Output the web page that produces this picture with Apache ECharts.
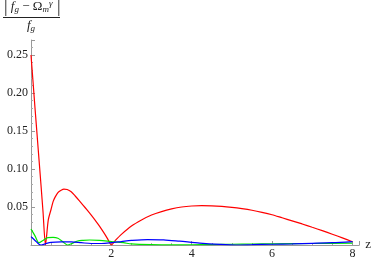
<!DOCTYPE html>
<html>
<head>
<meta charset="utf-8">
<script src="https://cdn.jsdelivr.net/npm/echarts@6/dist/echarts.min.js"></script>
<style>html,body{margin:0;padding:0;background:#fff}#c{width:374px;height:260px}</style>
</head>
<body>
<div id="c"></div>
<script>
// z values and |f_g - Omega_m^gamma| / f_g for three models
var redZ = [0,0.05,0.1,0.15,0.2,0.25,0.3,0.36,0.43,0.5,0.55,0.6,0.67,0.75,0.82,0.9,1.0,1.1,1.2,1.3,1.4,1.5,1.6,1.7,1.8,1.9,2.0,2.1,2.25,2.5,2.75,3.0,3.25,3.5,3.75,4.0,4.25,4.5,4.75,5.0,5.25,5.5,5.75,6.0,6.25,6.5,6.75,7.0,7.25,7.5,7.75,8.0];
var redV = [0.250,0.215,0.180,0.146,0.112,0.078,0.043,0.0,0.033,0.047,0.057,0.063,0.069,0.072,0.0735,0.073,0.070,0.0645,0.0585,0.0522,0.0458,0.0392,0.0323,0.0252,0.0172,0.0088,0.0,0.006,0.014,0.025,0.033,0.0395,0.044,0.0475,0.050,0.0513,0.0518,0.0516,0.0508,0.0495,0.0478,0.0457,0.0430,0.0398,0.0358,0.0318,0.0277,0.0233,0.0189,0.0142,0.0094,0.0043];

var greenZ = [0,0.1,0.2,0.3,0.42,0.55,0.67,0.8,0.91,1.0,1.16,1.3,1.46,1.7,2.0,2.3,2.5,3.0,3.5,4.0,4.5,5.0,5.5,6.0,7.0,8.0];
var greenV = [0.021,0.012,0.003,0.006,0.0096,0.010,0.0088,0.004,0.0,0.0015,0.0053,0.0062,0.0066,0.006,0.0045,0.003,0.0015,0.0005,0.0002,0.0003,0.0006,0.001,0.0013,0.0015,0.002,0.0025];

var blueZ = [0,0.1,0.2,0.25,0.35,0.5,0.75,1.0,1.25,1.5,1.75,2.0,2.25,2.5,2.9,3.3,3.7,4.2,4.7,5.1,5.5,6.0,6.5,7.0,7.5,8.0];
var blueV = [0.011,0.006,0.001,0.0,0.0015,0.0035,0.0042,0.004,0.003,0.002,0.002,0.003,0.0045,0.006,0.0072,0.0068,0.005,0.0025,0.0008,0.0,0.0004,0.001,0.0015,0.0022,0.003,0.0045];

var xTicks = [2,4,6,8];
var yTicks = [0.05,0.10,0.15,0.20,0.25];

function pairs(xs, ys){ return xs.map(function(x,i){ return [x, ys[i]]; }); }

var chart = echarts.init(document.getElementById('c'), null, {renderer:'canvas'});
var serif = '"Liberation Serif", "DejaVu Serif", serif';
chart.setOption({
  animation: false,
  backgroundColor: '#fff',
  grid: {left: 31, right: 12, top: 40, bottom: 15, containLabel: false},
  xAxis: {
    type: 'value', min: 0, max: 8.17, interval: 2,
    name: 'z', nameLocation: 'end', nameGap: 6,
    nameTextStyle: {fontFamily: serif, fontSize: 13, color: '#222', verticalAlign: 'middle'},
    axisLine: {show: true, onZero: false, lineStyle: {color: '#999', width: 1}},
    axisTick: {show: true, inside: true, length: 4, lineStyle: {color: '#999'}},
    minorTick: {show: true, splitNumber: 4, length: 2, lineStyle: {color: '#aaa'}},
    splitLine: {show: false},
    axisLabel: {fontFamily: serif, fontSize: 12, color: '#222', margin: 3,
      showMinLabel: true, showMaxLabel: true,
      formatter: function(v){ return xTicks.indexOf(Math.round(v*100)/100) >= 0 ? String(v) : ''; }}
  },
  yAxis: {
    type: 'value', min: 0, max: 0.2697, interval: 0.05,
    axisLine: {show: true, onZero: false, lineStyle: {color: '#999', width: 1}},
    axisTick: {show: true, inside: true, length: 4, lineStyle: {color: '#999'}},
    minorTick: {show: true, splitNumber: 5, length: 2, lineStyle: {color: '#aaa'}},
    splitLine: {show: false},
    axisLabel: {fontFamily: serif, fontSize: 12, color: '#222', margin: 3,
      formatter: function(v){
        var r = Math.round(v*100)/100;
        return yTicks.indexOf(r) >= 0 && Math.abs(v - r) < 1e-6 ? r.toFixed(2) : '';
      }}
  },
  series: [
    {type: 'line', data: pairs(redZ, redV), showSymbol: false, smooth: 0.25,
      lineStyle: {color: '#ff0000', width: 1.2}, itemStyle: {color: '#ff0000'}},
    {type: 'line', data: pairs(greenZ, greenV), showSymbol: false, smooth: 0.3,
      lineStyle: {color: '#00e600', width: 1.2}, itemStyle: {color: '#00e600'}},
    {type: 'line', data: pairs(blueZ, blueV), showSymbol: false, smooth: 0.3,
      lineStyle: {color: '#0000ff', width: 1.2}, itemStyle: {color: '#0000ff'}}
  ],
  graphic: [
    {type: 'text', left: 4, top: -2, style: {
      text: '{b||}{i| f}{sub|g}{r| − Ω}{sub|m}{sup|γ}{b| |}',
      rich: {
        b: {fontFamily: serif, fontSize: 18, fill: '#222'},
        i: {fontFamily: serif, fontStyle: 'italic', fontSize: 13, fill: '#222'},
        r: {fontFamily: serif, fontSize: 13, fill: '#222'},
        sub: {fontFamily: serif, fontStyle: 'italic', fontSize: 9, fill: '#222', padding: [6,0,0,0]},
        sup: {fontFamily: serif, fontStyle: 'italic', fontSize: 9, fill: '#222', padding: [0,0,6,0]}
      }
    }},
    {type: 'line', shape: {x1: 3, y1: 17.5, x2: 60, y2: 17.5}, style: {stroke: '#222', lineWidth: 1}},
    {type: 'text', left: 27, top: 19, style: {
      text: '{i|f}{sub|g}',
      rich: {
        i: {fontFamily: serif, fontStyle: 'italic', fontSize: 13, fill: '#222'},
        sub: {fontFamily: serif, fontStyle: 'italic', fontSize: 9, fill: '#222', padding: [6,0,0,0]}
      }
    }}
  ]
});
</script>
</body>
</html>
